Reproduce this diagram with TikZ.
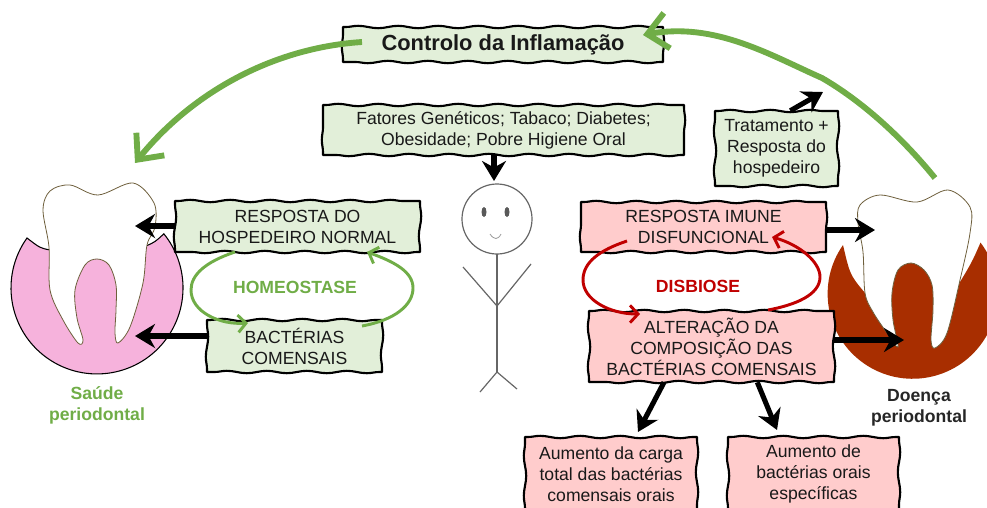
\documentclass[tikz,border=0pt]{standalone}
\usepackage{fontspec}
\setmainfont{Liberation Sans}
\usepackage{tikz}
\usetikzlibrary{arrows.meta,decorations.pathmorphing}
\definecolor{boxgreen}{RGB}{226, 239, 217}
\definecolor{boxpink}{RGB}{255, 204, 204}
\definecolor{leafgreen}{RGB}{112, 173, 71}
\definecolor{loopred}{RGB}{192, 0, 0}
\definecolor{gumpink}{RGB}{246, 178, 220}
\definecolor{gumdark}{RGB}{168, 46, 0}
\definecolor{toothline}{RGB}{110, 95, 60}
\tikzset{
    frameline/.style={draw=black, line width=1.6pt, line join=round,
        decoration={snake, segment length=30pt, amplitude=0.9pt, pre length=2pt, post length=2pt}},
    boxtext/.style={align=center, inner sep=0pt, font=\fontsize{13.2}{15.75}\selectfont, text=black!90},
    blackarrow/.style={-{Stealth[length=15pt, width=18pt]}, line width=3.8pt},
    bigcurve/.style={-{Straight Barb[length=15pt, width=27pt]}, line width=4.4pt, leafgreen},
    greenloop/.style={-{Straight Barb[length=6pt, width=13pt]}, line width=2.2pt, leafgreen},
    redloop/.style={-{Straight Barb[length=6pt, width=13pt]}, line width=2.2pt, loopred},
    looplabel/.style={font=\fontsize{13.2}{15}\selectfont\bfseries},
    caption/.style={align=center, font=\fontsize{13.2}{15.75}\selectfont\bfseries},
    toothshape/.style={fill=white, draw=toothline, line width=0.6pt},
    stick/.style={draw=black!60, line width=0.9pt}
}
% wavy frame with its text node: name, x, y, width, height, colour, text
\newcommand{\wavybox}[7]{
    \draw[frameline, fill=#6] ({#2-#4/2},{#3-#5/2})
        decorate {-- ({#2+#4/2},{#3-#5/2})}
        decorate {-- ({#2+#4/2},{#3+#5/2})}
        decorate {-- ({#2-#4/2},{#3+#5/2})}
        decorate {-- ({#2-#4/2},{#3-#5/2})} -- cycle;
    \node[boxtext, minimum width=#4*0.75pt, minimum height=#5*0.75pt] (#1) at (#2,#3) {#7};
}
\begin{document}
\begin{tikzpicture}[x=0.75pt, y=-0.75pt]
    \clip (0,0) rectangle (987,507);
    \useasboundingbox (0,0) rectangle (987,507);

    % Healthy gum and tooth
    \draw[fill=gumpink, line width=0.8pt] (27,238) arc[start angle=215.5, end angle=-39, radius=86]
        .. controls (155,242) .. (146,246) -- (50,250) .. controls (40,248) .. cycle;
    \draw[toothshape] plot[smooth cycle, tension=0.55] coordinates {(49,247) (43,210) (50,191) (70,185) (98,195)
        (133,183) (154,203) (155,227) (147,245) (143,283) (130,327) (118,343) (115,333) (116,310) (116,285)
        (109,265) (97,259) (85,265) (75,290) (77,318) (83,340) (78,343) (63,320) (50,290)};

    % Diseased gum and tooth
    \fill[gumdark] (843,245) arc[start angle=215, end angle=-37, radius=85]
        .. controls (972,262) .. (960,282) -- (911,255) -- (865,293) .. controls (850,275) .. cycle;
    \draw[toothshape] plot[smooth cycle, tension=0.55] coordinates {(865,293) (863,252) (858,223) (860,205) (880,195)
        (917,202) (948,190) (970,207) (970,233) (960,280) (947,333) (935,348) (931,340) (933,310) (932,285)
        (924,270) (911,263) (898,270) (892,293) (893,320) (898,347) (887,333) (873,312)};

    % Stick figure
    \draw[stick] (497,219) circle (35);
    \fill[black!65] (484,212) ellipse (2.5 and 5);
    \fill[black!65] (507,212) ellipse (2.5 and 5);
    \draw[stick, black!40, line width=0.6pt] (490,234) .. controls (494,240) and (498,240) .. (501,234);
    \draw[stick] (497,254) -- (497,372);
    \draw[stick] (463,267) -- (497,306) -- (531,264);
    \draw[stick] (480,392) -- (497,372) -- (517,389);

    % Boxes
    \wavybox{control}{503}{44.5}{320}{35}{boxgreen}{\fontsize{16.4}{18}\selectfont\bfseries Controlo da Inflamação}
    \wavybox{factors}{503.5}{130}{361}{50}{boxgreen}{Fatores Genéticos; Tabaco; Diabetes;\\Obesidade; Pobre Higiene Oral}
    \wavybox{treatment}{776.5}{148.5}{123}{75}{boxgreen}{Tratamento +\\Resposta do\\hospedeiro}
    \wavybox{normal}{297.5}{226.5}{245}{51}{boxgreen}{RESPOSTA DO\\HOSPEDEIRO NORMAL}
    \wavybox{commensal}{294.5}{346}{175}{52}{boxgreen}{BACTÉRIAS\\COMENSAIS}
    \wavybox{immune}{703.5}{227}{245}{50}{boxpink}{RESPOSTA IMUNE\\DISFUNCIONAL}
    \wavybox{altered}{711.5}{346.5}{245}{71}{boxpink}{ALTERAÇÃO DA\\COMPOSIÇÃO DAS\\BACTÉRIAS COMENSAIS}
    \wavybox{load}{611}{474}{172}{74}{boxpink}{Aumento da carga\\total das bactérias\\comensais orais}
    \wavybox{specific}{813.5}{474}{171}{74}{boxpink}{Aumento de\\bactérias orais\\específicas}

    % Labels
    \node[looplabel, text=leafgreen] (homeo) at (295,287) {HOMEOSTASE};
    \node[looplabel, text=loopred] (dysb) at (698,286) {DISBIOSE};
    \node[caption, text=leafgreen] (healthy) at (97,405) {Saúde\\periodontal};
    \node[caption, text=black!85] (disease) at (919,408) {Doença\\periodontal};

    % Free ends of the arrows
    \coordinate (crownL) at (135,226);
    \coordinate (rootL) at (135,336);
    \coordinate (crownR) at (875,230);
    \coordinate (rootR) at (904,340);
    \coordinate (headtop) at (494,181);
    \coordinate (bend) at (823,92);
    \coordinate (loadtop) at (638,432);
    \coordinate (specifictop) at (777,430);

    % Black arrows
    \draw[blackarrow] (normal.west |- crownL) -- (crownL);
    \draw[blackarrow] (commensal.west |- rootL) -- (rootL);
    \draw[blackarrow] (immune.east |- crownR) -- (crownR);
    \draw[blackarrow] (altered.east |- rootR) -- (rootR);
    \draw[blackarrow] (factors.south -| headtop) -- (headtop);
    \draw[blackarrow] (treatment.70) -- (bend);
    \draw[blackarrow] (altered.217) -- (loadtop);
    \draw[blackarrow] (altered.-38) -- (specifictop);

    % Ends of the loops
    \coordinate (normalL) at (235,252);
    \coordinate (normalR) at (367,252);
    \coordinate (commensalL) at (248,323);
    \coordinate (commensalR) at (362,326);
    \coordinate (immuneL) at (627,241);
    \coordinate (immuneR) at (772,237);
    \coordinate (alteredL) at (640,314);
    \coordinate (alteredR) at (768,310);

    % Homeostasis loop
    \draw[greenloop] (normalL) .. controls (205,262) and (191,275) .. (191,290)
        .. controls (191,312) and (220,325) .. (commensalL);
    \draw[greenloop] (commensalR) .. controls (395,320) and (413,305) .. (413,288)
        .. controls (413,272) and (395,262) .. (normalR);

    % Dysbiosis loop
    \draw[redloop] (immuneL) .. controls (600,250) and (583,262) .. (583,280)
        .. controls (583,300) and (610,314) .. (alteredL);
    \draw[redloop] (alteredR) .. controls (795,305) and (820,295) .. (820,277)
        .. controls (820,262) and (800,245) .. (immuneR);

    % Inflammation control curves
    \coordinate (leftstart) at (362,42);
    \coordinate (leftend) at (135,163);
    \coordinate (rightstart) at (935,178);
    \coordinate (rightend) at (643,35);
    \draw[bigcurve] (leftstart) .. controls (270,48) and (190,95) .. (leftend);
    \draw[bigcurve] (rightstart) .. controls (900,135) and (860,100) .. (822,78)
        .. controls (770,55) and (715,22) .. (rightend);
\end{tikzpicture}
\end{document}
